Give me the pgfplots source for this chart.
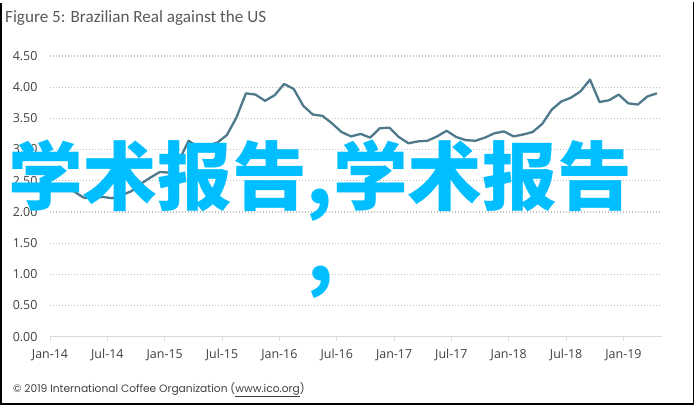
\documentclass[border=0pt]{standalone}
\usepackage{fontspec}
\usepackage{pgfplots}
\pgfplotsset{compat=1.18}
\setmainfont{Open Sans}
\newfontfamily\titlefont{Carlito}
\newfontfamily\footfont{Poppins}
\newfontfamily\cjk{Noto Sans CJK SC}
\definecolor{linecol}{RGB}{78,121,138}
\definecolor{gridcol}{RGB}{191,191,191}
\definecolor{axcol}{RGB}{217,217,217}
\definecolor{txtcol}{RGB}{89,89,89}
\definecolor{tickcol}{RGB}{64,64,64}
\definecolor{cyanov}{RGB}{0,190,255}
\begin{document}
\begin{tikzpicture}
\useasboundingbox (0,0) rectangle (695bp,406bp);
\begin{axis}[
  at={(50bp,69.3bp)}, anchor=south west,
  scale only axis, width=611.7bp, height=280.8bp,
  xmin=0, xmax=64, ymin=0, ymax=4.5,
  axis lines*=left,
  y axis line style={draw=none},
  x axis line style={draw=axcol, line width=1bp},
  xtick={0,6,...,60},
  xticklabels={Jan-14,Jul-14,Jan-15,Jul-15,Jan-16,Jul-16,Jan-17,Jul-17,Jan-18,Jul-18,Jan-19},
  ytick={0,0.5,...,4.5},
  yticklabel style={/pgf/number format/fixed, /pgf/number format/precision=2, /pgf/number format/fixed zerofill},
  /pgf/number format/assume math mode=true,
  ticklabel style={font=\fontsize{12.5}{14}\selectfont, text=tickcol},
  tick align=outside,
  major tick length=4bp,
  x tick style={draw=axcol, line width=1bp},
  xtick pos=bottom,
  y tick style={draw=none},
  ytick pos=left,
  yticklabel style={xshift=-5bp},
  xticklabel style={yshift=-5bp},
  ymajorgrids,
  grid style={draw=gridcol, line width=1.2bp, dash pattern=on 1.2bp off 1.8bp},
  clip=false,
]
\addplot[color=linecol, line width=2.3bp, line join=round] coordinates {
(0.5,2.38) (1.5,2.38) (2.5,2.33) (3.5,2.23) (4.5,2.22) (5.5,2.24)
(6.5,2.22) (7.5,2.27) (8.5,2.33) (9.5,2.45) (10.5,2.55) (11.5,2.64)
(12.5,2.63) (13.5,2.82) (14.5,3.14) (15.5,3.04) (16.5,3.06) (17.5,3.11)
(18.5,3.23) (19.5,3.51) (20.5,3.90) (21.5,3.88) (22.5,3.78) (23.5,3.87)
(24.5,4.05) (25.5,3.97) (26.5,3.70) (27.5,3.56) (28.5,3.54) (29.5,3.42)
(30.5,3.28) (31.5,3.21) (32.5,3.25) (33.5,3.19) (34.5,3.34) (35.5,3.35)
(36.5,3.20) (37.5,3.10) (38.5,3.13) (39.5,3.14) (40.5,3.21) (41.5,3.30)
(42.5,3.20) (43.5,3.15) (44.5,3.14) (45.5,3.19) (46.5,3.26) (47.5,3.29)
(48.5,3.21) (49.5,3.24) (50.5,3.28) (51.5,3.41) (52.5,3.64) (53.5,3.77)
(54.5,3.83) (55.5,3.93) (56.5,4.12) (57.5,3.76) (58.5,3.79) (59.5,3.88)
(60.5,3.74) (61.5,3.72) (62.5,3.85) (63.5,3.90)
};
\end{axis}
\node[anchor=base west, inner sep=0pt, text=txtcol, font=\titlefont\fontsize{17.2}{20}\selectfont] at (5bp,383.5bp) {Figure 5: Brazilian Real against the US};
\node[anchor=base west, inner sep=0pt, text=tickcol, font=\footfont\fontsize{10.7}{12}\selectfont] at (13bp,14bp) {\textcopyright{} 2019 International Coffee Organization (\underline{www.ico.org})};
\node[anchor=base, inner sep=0pt, text=cyanov, font=\cjk\bfseries\fontsize{75}{77}\selectfont] at (320bp,201bp) {学术报告,学术报告};
\node[anchor=base, inner sep=0pt, text=cyanov, font=\cjk\bfseries\fontsize{75}{77}\selectfont] at (321bp,124bp) {,};
\draw[line width=1.5bp] (0.75bp,403bp) -- (0.75bp,1.75bp) -- (693.25bp,1.75bp) -- (693.25bp,404bp);
\end{tikzpicture}
\end{document}
